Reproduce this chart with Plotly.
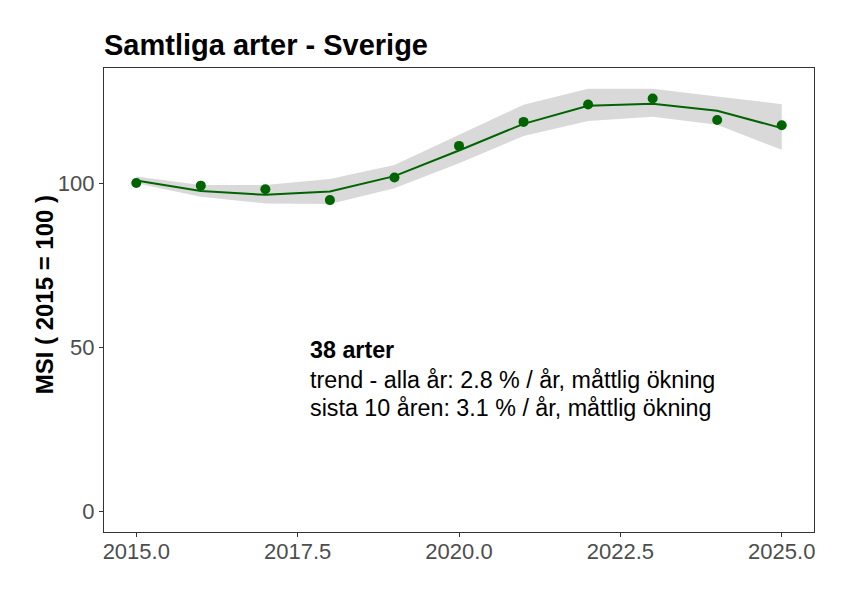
import plotly.graph_objects as go

years = [2015, 2016, 2017, 2018, 2019, 2020, 2021, 2022, 2023, 2024, 2025]
msi = [100.0, 99.2, 98.1, 94.8, 101.7, 111.3, 118.6, 123.9, 125.7, 119.2, 117.6]
trend = [100.8, 97.6, 96.4, 97.4, 102.1, 109.9, 118.0, 123.5, 124.1, 122.0, 116.7]
upper = [102.0, 99.4, 99.4, 101.2, 105.5, 114.6, 123.8, 128.7, 128.7, 126.3, 124.0]
lower = [99.9, 95.8, 93.8, 93.6, 98.4, 106.0, 114.3, 118.9, 120.2, 117.7, 110.1]

title_text = "Samtliga arter - Sverige"
y_title = "MSI ( 2015 = 100 )"
info_lines = ["<b>38 arter</b>",
              "trend - alla år: 2.8 % / år, måttlig ökning",
              "sista 10 åren: 3.1 % / år, måttlig ökning"]
x_ticks = [2015, 2017.5, 2020, 2022.5, 2025]
x_ticklabels = ["2015.0", "2017.5", "2020.0", "2022.5", "2025.0"]
y_ticks = [0, 50, 100]

FONT = "Liberation Sans, Arial, sans-serif"
GREEN = "#006400"
AX = "#333333"

fig = go.Figure()
fig.add_trace(go.Scatter(x=years, y=lower, mode="lines", line=dict(width=0),
                         hoverinfo="skip", showlegend=False))
fig.add_trace(go.Scatter(x=years, y=upper, mode="lines", line=dict(width=0),
                         fill="tonexty", fillcolor="rgb(217,217,217)",
                         hoverinfo="skip", showlegend=False))
fig.add_trace(go.Scatter(x=years, y=trend, mode="lines",
                         line=dict(color=GREEN, width=2), showlegend=False))
fig.add_trace(go.Scatter(x=years, y=msi, mode="markers",
                         marker=dict(color=GREEN, size=10), showlegend=False))

line_y = [49.3, 40.2, 31.6]
for txt, yy in zip(info_lines, line_y):
    fig.add_annotation(x=2017.66, y=yy, xref="x", yref="y", text=txt,
                       showarrow=False, xanchor="left", yanchor="middle",
                       font=dict(family=FONT, size=23.3, color="black"))

fig.add_annotation(x=-0.0845, y=0.51, xref="paper", yref="paper", text=f"<b>{y_title}</b>",
                   textangle=-90, showarrow=False, xanchor="center", yanchor="middle",
                   font=dict(family=FONT, size=24, color="black"))

fig.update_layout(
    width=848, height=594,
    margin=dict(l=96, r=42, t=60, b=70),
    paper_bgcolor="white", plot_bgcolor="white",
    title=dict(text=f"<b>{title_text}</b>", xref="paper", x=0, xanchor="left",
               yref="container", y=1 - 37 / 594, yanchor="middle",
               font=dict(family=FONT, size=29, color="black")),
    xaxis=dict(range=[2014.5, 2025.5], tickvals=x_ticks, ticktext=x_ticklabels,
               showgrid=False, zeroline=False, showline=True, mirror=True,
               linecolor=AX, linewidth=1.3, ticks="outside", ticklen=4,
               tickcolor=AX, tickfont=dict(family=FONT, size=22, color="#4D4D4D")),
    yaxis=dict(range=[-6.2, 135.0], tickvals=y_ticks,
               showgrid=False, zeroline=False, showline=True, mirror=True,
               linecolor=AX, linewidth=1.3, ticks="outside", ticklen=4,
               tickcolor=AX, tickfont=dict(family=FONT, size=22, color="#4D4D4D")),
)

try:
    fig.update_xaxes(ticklabelstandoff=-5)
except Exception:
    pass

fig.write_html("out.html")
